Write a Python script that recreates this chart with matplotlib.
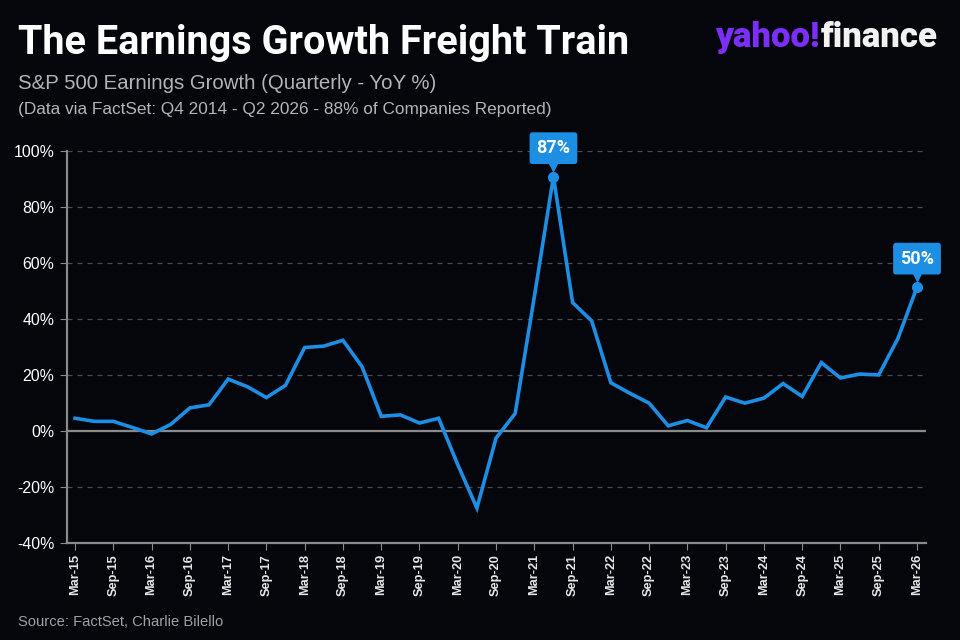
import matplotlib
matplotlib.use("Agg")
import matplotlib.pyplot as plt
import matplotlib.transforms as mtransforms
import pandas as pd

# quarterly S&P 500 earnings growth, YoY %, Mar-15 .. Mar-26
growth = [4.6, 3.5, 3.5, 1.3, -1.0, 2.4, 8.3, 9.4, 18.6, 15.9, 12.0, 16.4,
          29.9, 30.4, 32.5, 23.0, 5.3, 5.8, 2.9, 4.6, -12.0, -27.5, -2.5, 6.3,
          48.0, 91.0, 46.0, 39.4, 17.3, 13.5, 10.0, 1.9, 3.8, 1.2, 12.2, 10.0,
          11.8, 17.0, 12.4, 24.5, 19.0, 20.4, 20.1, 33.1, 51.5]
quarters = pd.date_range("2015-03-31", periods=len(growth), freq="QE").strftime("%b-%y").tolist()

callout_idx = [25, 44]
callout_txt = ["87%", "50%"]

yticks = [-40, -20, 0, 20, 40, 60, 80, 100]

bg = "#04060c"
blue = "#1c8ee3"
grey = "#8a8a8a"

fig = plt.figure(figsize=(9.6, 6.4), dpi=100, facecolor=bg)
ax = fig.add_axes([0.0698, 0.1516, 0.8948, 0.6117], facecolor=bg)

x = list(range(len(growth)))
ax.plot(x, growth, color=blue, lw=2.6, solid_joinstyle="miter", zorder=3)

ax.set_xlim(-0.42, len(growth) - 1 + 0.47)
ax.set_ylim(-40, 100)
ax.set_yticks(yticks)
ax.set_yticklabels([f"{v}%" for v in yticks])
for v in yticks:
    if v == 0:
        ax.axhline(v, color=grey, lw=1.6, zorder=2)
    elif v != -40:
        ax.axhline(v, color="#4a4a4a", lw=0.9, ls=(0, (4, 4)), zorder=1)

ax.set_xticks(x[::2])
ax.set_xticklabels(quarters[::2], rotation=90, fontweight="bold",
                   fontsize=9.2, color="#e6e6e6", family="Liberation Sans")
ax.tick_params(axis="x", length=5, color=grey, pad=3)
ax.tick_params(axis="y", length=5, color=grey, labelsize=11.4, labelcolor="white", pad=4)
for lab in ax.get_yticklabels():
    lab.set_family("Liberation Sans")

for s in ["top", "right"]:
    ax.spines[s].set_visible(False)
for s in ["left", "bottom"]:
    ax.spines[s].set_color(grey)
    ax.spines[s].set_linewidth(1.6)

# callouts
for i, t in zip(callout_idx, callout_txt):
    ax.plot(i, growth[i], "o", color=blue, ms=7, zorder=4)
    tri = mtransforms.offset_copy(ax.transData, fig=fig, x=0, y=8.5, units="points")
    ax.plot(i, growth[i], "v", color=blue, ms=8, transform=tri, zorder=4)
    ax.annotate(t, (i, growth[i]), xytext=(0, 20.5), textcoords="offset points",
                ha="center", va="center", color="white", fontsize=13,
                fontweight="bold", family="Roboto",
                bbox=dict(boxstyle="round,pad=0.38,rounding_size=0.15",
                          fc=blue, ec="none"), zorder=5)

fig.text(0.019, 0.9156, "The Earnings Growth Freight Train", color="white",
         fontsize=28.5, fontweight="bold", family="Roboto", va="baseline")
fig.text(0.019, 0.861, "S&P 500 Earnings Growth (Quarterly - YoY %)",
         color="#b4b4b4", fontsize=14.7, family="Liberation Sans", va="baseline")
fig.text(0.019, 0.822, "(Data via FactSet: Q4 2014 - Q2 2026 - 88% of Companies Reported)",
         color="#b4b4b4", fontsize=12.4, family="Liberation Sans", va="baseline")
fig.text(0.019, 0.022, "Source: FactSet, Charlie Bilello", color="#a0a0a0",
         fontsize=10.6, family="Liberation Sans", va="baseline")

logo = fig.text(0.745, 0.927, "yahoo!", color="#7d2eff", fontsize=25,
                fontweight="heavy", family="Roboto", va="baseline")
fig.canvas.draw()
bb = logo.get_window_extent().transformed(fig.transFigure.inverted())
fig.text(bb.x1 + 0.001, 0.927, "finance", color="#f2f2f2", fontsize=25,
         fontweight="heavy", family="Roboto", va="baseline")

fig.savefig("out.png", dpi=100, facecolor=bg)
